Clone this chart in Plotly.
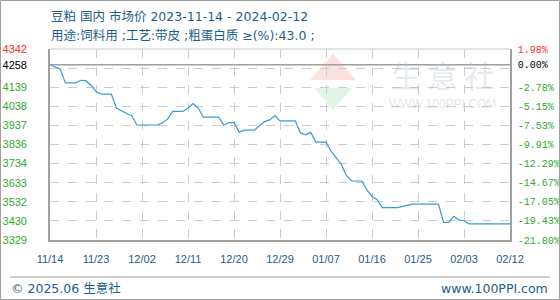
import plotly.graph_objects as go

# ---- data ----
DATES = ["2023-11-14", "2023-11-15", "2023-11-16", "2023-11-17", "2023-11-19", "2023-11-20",
         "2023-11-21", "2023-11-22", "2023-11-23", "2023-11-24", "2023-11-26", "2023-11-27",
         "2023-11-28", "2023-11-29", "2023-11-30", "2023-12-01", "2023-12-05", "2023-12-06",
         "2023-12-07", "2023-12-08", "2023-12-10", "2023-12-11", "2023-12-12", "2023-12-13",
         "2023-12-14", "2023-12-17", "2023-12-18", "2023-12-19", "2023-12-20", "2023-12-21",
         "2023-12-22", "2023-12-24", "2023-12-25", "2023-12-26", "2023-12-27", "2023-12-28",
         "2023-12-29", "2024-01-01", "2024-01-02", "2024-01-03", "2024-01-04", "2024-01-05",
         "2024-01-07", "2024-01-08", "2024-01-09", "2024-01-10", "2024-01-11", "2024-01-12",
         "2024-01-14", "2024-01-15", "2024-01-16", "2024-01-17", "2024-01-18", "2024-01-21",
         "2024-01-22", "2024-01-23", "2024-01-24", "2024-01-29", "2024-01-30", "2024-01-31",
         "2024-02-01", "2024-02-02", "2024-02-03", "2024-02-04", "2024-02-12"]
PRICES = [4258, 4246, 4236, 4162, 4162, 4176,
          4174, 4150, 4116, 4103, 4103, 4029,
          4013, 4000, 3988, 3939, 3939, 3950,
          3970, 4011, 4011, 4029, 4053, 4029,
          3981, 3981, 3938, 3952, 3952, 3901,
          3912, 3912, 3936, 3957, 3966, 3989,
          3961, 3961, 3896, 3887, 3900, 3848,
          3848, 3800, 3765, 3730, 3670, 3642,
          3642, 3595, 3560, 3543, 3501, 3501,
          3507, 3512, 3519, 3519, 3423, 3423,
          3455, 3436, 3431, 3414, 3414]

BASE = 4258
Y_MIN, Y_MAX = 3329, 4342
GRID_VALS = [3329, 3430.3, 3531.6, 3632.9, 3734.2, 3835.5, 3936.8, 4038.1, 4139.4, 4240.7, 4342]
LEFT_TICK_VALS = [3329, 3430.3, 3531.6, 3632.9, 3734.2, 3835.5, 3936.8, 4038.1, 4139.4, 4258, 4342]
LEFT_TICK_TEXT = ["3329", "3430", "3532", "3633", "3734", "3836", "3937", "4038", "4139", "4258", "4342"]
RIGHT_TICK_TEXT = ["-21.80%", "-19.43%", "-17.05%", "-14.67%", "-12.29%", "-9.91%", "-7.53%",
                   "-5.15%", "-2.78%", "0.00%", "1.98%"]
X_TICK_DATES = ["2023-11-14", "2023-11-23", "2023-12-02", "2023-12-11", "2023-12-20", "2023-12-29",
                "2024-01-07", "2024-01-16", "2024-01-25", "2024-02-03", "2024-02-12"]
X_TICK_TEXT = ["11/14", "11/23", "12/02", "12/11", "12/20", "12/29", "01/07", "01/16", "01/25",
               "02/03", "02/12"]

TITLE1 = "豆粕 国内 市场价 2023-11-14 - 2024-02-12"
TITLE2 = "用途:饲料用 ;工艺:带皮 ;粗蛋白质 ≥(%):43.0 ;"
FOOT_L = "© 2025.06 生意社"
FOOT_R = "www.100PPI.com"

# ---- styling ----
BLUE_TXT = "#1e5d8c"
GREEN = "#2eaa2e"
RED = "#ff2a2a"
LINE = "#3a9ad9"
AX = "#a0a0a0"
GRID = "#cccccc"
SANS = "Liberation Sans, Noto Sans CJK SC, sans-serif"
WIDE = "DejaVu Sans, Noto Sans CJK SC, sans-serif"


def color_for(v):
    if v == Y_MAX:
        return RED
    if v == BASE:
        return "#000000"
    return GREEN


left_text = [f'<span style="color:{color_for(v)}">{t}</span>' for v, t in zip(LEFT_TICK_VALS, LEFT_TICK_TEXT)]
right_text = [f'<span style="color:{color_for(v)}">{t}</span>' for v, t in zip(LEFT_TICK_VALS, RIGHT_TICK_TEXT)]

fig = go.Figure()
fig.add_trace(go.Scatter(x=DATES, y=PRICES, mode="lines", line=dict(color=LINE, width=1.2),
                         yaxis="y", hoverinfo="skip", showlegend=False))
fig.add_trace(go.Scatter(x=DATES, y=PRICES, mode="lines", line=dict(width=0), opacity=0,
                         yaxis="y2", hoverinfo="skip", showlegend=False))
fig.add_trace(go.Scatter(x=DATES, y=PRICES, mode="lines", line=dict(width=0), opacity=0,
                         yaxis="y3", hoverinfo="skip", showlegend=False))

L, R, T, B = 50, 50, 49, 60
W, H = 560, 300
PW, PH = W - L - R, H - T - B


def px(xp):
    return (xp - L) / PW


def py(yp):
    return (H - B - yp) / PH


fig.update_layout(
    width=W, height=H, margin=dict(l=L, r=R, t=T, b=B, autoexpand=False),
    paper_bgcolor="white", plot_bgcolor="white",
    font=dict(family=SANS, size=11, color=BLUE_TXT),
    xaxis=dict(type="date", range=[X_TICK_DATES[0], X_TICK_DATES[-1]],
               tickvals=X_TICK_DATES, ticktext=X_TICK_TEXT, automargin=False,
               showgrid=True, gridcolor=GRID, griddash="dash", gridwidth=1,
               showline=True, linecolor=AX, linewidth=1.5, mirror=False,
               ticks="", ticklabelstandoff=8,
               tickfont=dict(family=SANS, size=11, color=BLUE_TXT), zeroline=False),
    yaxis=dict(range=[Y_MIN, Y_MAX], tickvals=GRID_VALS, showticklabels=False, automargin=False,
               showgrid=True, gridcolor=GRID, griddash="dash", gridwidth=1,
               showline=True, linecolor=AX, linewidth=1.5, ticks="", zeroline=False),
    yaxis3=dict(range=[Y_MIN, Y_MAX], overlaying="y", side="left", anchor="x", automargin=False,
                tickvals=LEFT_TICK_VALS, ticktext=left_text, showgrid=False, zeroline=False,
                showline=False, ticks="", ticklabelstandoff=22,
                tickfont=dict(family=SANS, size=11)),
    yaxis2=dict(range=[Y_MIN, Y_MAX], overlaying="y", side="right", anchor="x", automargin=False,
                tickvals=LEFT_TICK_VALS, ticktext=right_text, showgrid=False, zeroline=False,
                showline=True, linecolor=AX, linewidth=1.5, ticks="", ticklabelstandoff=4,
                tickfont=dict(family="Liberation Mono, monospace", size=10)),
)

shapes = [
    dict(type="line", xref="paper", yref="paper", x0=0, x1=1, y0=1, y1=1,
         line=dict(color="#c8c8c8", width=1)),
    dict(type="line", xref="paper", yref="y", x0=0, x1=1, y0=BASE, y1=BASE,
         line=dict(color=AX, width=1.5)),
    dict(type="line", xref="paper", yref="paper", x0=px(10), x1=px(550), y0=py(277), y1=py(277),
         line=dict(color="#a0a0a0", width=1)),
    dict(type="rect", xref="paper", yref="paper", x0=px(0.5), x1=px(559.5), y0=py(299.5), y1=py(0.5),
         line=dict(color="#a0a0a0", width=1)),
    dict(type="path", xref="paper", yref="paper", layer="below",
         path=f"M {px(310)} {py(80)} L {px(333)} {py(54)} L {px(356)} {py(80)} Z",
         fillcolor="rgba(240,120,120,0.22)", line=dict(width=0)),
    dict(type="path", xref="paper", yref="paper", layer="below",
         path=f"M {px(314)} {py(88)} L {px(352)} {py(88)} L {px(333)} {py(110)} Z",
         fillcolor="rgba(140,210,150,0.25)", line=dict(width=0)),
]
fig.update_layout(shapes=shapes)

annotations = [
    dict(text=TITLE1, xref="paper", yref="paper", x=px(49), y=py(16), xanchor="left", yanchor="middle",
         showarrow=False, font=dict(family=WIDE, size=12.5, color=BLUE_TXT)),
    dict(text=TITLE2, xref="paper", yref="paper", x=px(49), y=py(35), xanchor="left", yanchor="middle",
         showarrow=False, font=dict(family=WIDE, size=12.5, color=BLUE_TXT)),
    dict(text=FOOT_L, xref="paper", yref="paper", x=px(9), y=py(288), xanchor="left", yanchor="middle",
         showarrow=False, font=dict(family=WIDE, size=12.5, color=BLUE_TXT)),
    dict(text=FOOT_R, xref="paper", yref="paper", x=px(550), y=py(288), xanchor="right", yanchor="middle",
         showarrow=False, font=dict(family=WIDE, size=12.5, color=BLUE_TXT)),
    dict(text="生 意 社", xref="paper", yref="paper", x=px(442), y=py(74), xanchor="center", yanchor="middle",
         showarrow=False, font=dict(family="Noto Sans CJK SC", size=30, color="rgba(170,185,205,0.32)")),
    dict(text="WWW.100PPI.COM", xref="paper", yref="paper", x=px(442), y=py(104), xanchor="center",
         yanchor="middle", showarrow=False,
         font=dict(family=SANS, size=12, color="rgba(180,180,180,0.35)")),
]
fig.update_layout(annotations=annotations)

fig.write_html("out.html")
